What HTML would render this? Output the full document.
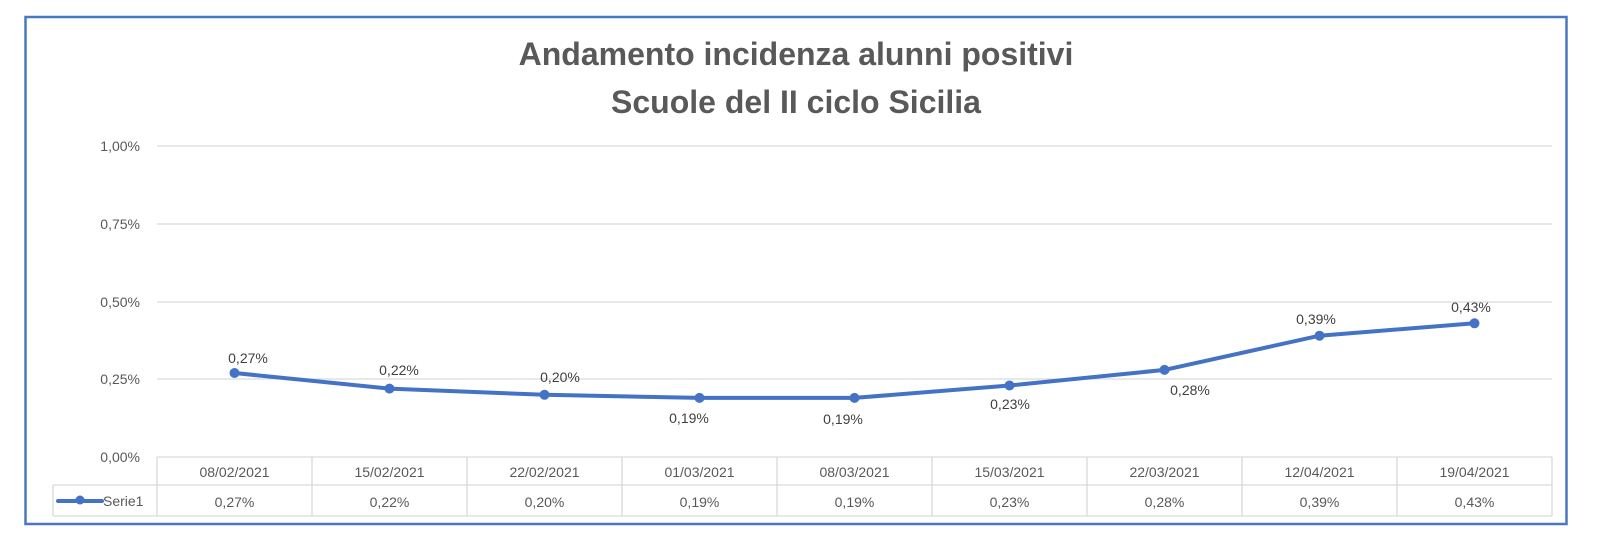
<!DOCTYPE html>
<html><head><meta charset="utf-8"><style>
body{margin:0;background:#fff;}
svg{display:block;font-family:"Liberation Sans",sans-serif;}
</style></head><body>
<svg width="1622" height="552" viewBox="0 0 1622 552" xmlns="http://www.w3.org/2000/svg">
<rect x="0" y="0" width="1622" height="552" fill="#fff"/>
<rect x="25.5" y="17" width="1541" height="507" fill="#fff" stroke="#4a78c0" stroke-width="2.5"/>
<g font-weight="bold" font-size="32" fill="#595959" text-anchor="middle">
<text x="796" y="65">Andamento incidenza alunni positivi</text>
<text x="796" y="113">Scuole del II ciclo Sicilia</text>
</g>
<g stroke="#d9d9d9" stroke-width="1.3">
<line x1="157" y1="146" x2="1552" y2="146"/>
<line x1="157" y1="224" x2="1552" y2="224"/>
<line x1="157" y1="302" x2="1552" y2="302"/>
<line x1="157" y1="379" x2="1552" y2="379"/>
</g>
<g font-size="14" fill="#595959" text-anchor="end">
<text x="140" y="151">1,00%</text>
<text x="140" y="229">0,75%</text>
<text x="140" y="307">0,50%</text>
<text x="140" y="384">0,25%</text>
<text x="140" y="462">0,00%</text>
</g>
<g stroke="#d9d9d9" stroke-width="1.3" fill="none">
<line x1="157" y1="457" x2="1552" y2="457"/>
<line x1="53" y1="485" x2="1552" y2="485"/>
<line x1="53" y1="516" x2="1552" y2="516"/>
<line x1="53" y1="485" x2="53" y2="516"/>
<line x1="157" y1="457" x2="157" y2="516"/>
<line x1="312" y1="457" x2="312" y2="516"/>
<line x1="467" y1="457" x2="467" y2="516"/>
<line x1="622" y1="457" x2="622" y2="516"/>
<line x1="777" y1="457" x2="777" y2="516"/>
<line x1="932" y1="457" x2="932" y2="516"/>
<line x1="1087" y1="457" x2="1087" y2="516"/>
<line x1="1242" y1="457" x2="1242" y2="516"/>
<line x1="1397" y1="457" x2="1397" y2="516"/>
<line x1="1552" y1="457" x2="1552" y2="516"/>
</g>
<g font-size="14" fill="#595959" text-anchor="middle">
<text x="234.5" y="477">08/02/2021</text>
<text x="389.5" y="477">15/02/2021</text>
<text x="544.5" y="477">22/02/2021</text>
<text x="699.5" y="477">01/03/2021</text>
<text x="854.5" y="477">08/03/2021</text>
<text x="1009.5" y="477">15/03/2021</text>
<text x="1164.5" y="477">22/03/2021</text>
<text x="1319.5" y="477">12/04/2021</text>
<text x="1474.5" y="477">19/04/2021</text>
<text x="234.5" y="507">0,27%</text>
<text x="389.5" y="507">0,22%</text>
<text x="544.5" y="507">0,20%</text>
<text x="699.5" y="507">0,19%</text>
<text x="854.5" y="507">0,19%</text>
<text x="1009.5" y="507">0,23%</text>
<text x="1164.5" y="507">0,28%</text>
<text x="1319.5" y="507">0,39%</text>
<text x="1474.5" y="507">0,43%</text>
</g>
<line x1="58" y1="501" x2="102" y2="501" stroke="#4472c4" stroke-width="4" stroke-linecap="round"/>
<circle cx="80" cy="500" r="4.5" fill="#4472c4"/>
<text x="103" y="506" font-size="14" fill="#595959">Serie1</text>
<polyline fill="none" stroke="#4472c4" stroke-width="4" stroke-linejoin="round"
points="234.5,373 389.5,388.6 544.5,394.8 699.5,397.9 854.5,397.9 1009.5,385.5 1164.5,369.9 1319.5,335.7 1474.5,323.3"/>
<g fill="#4472c4">
<circle cx="234.5" cy="373" r="5"/><circle cx="389.5" cy="388.6" r="5"/><circle cx="544.5" cy="394.8" r="5"/>
<circle cx="699.5" cy="397.9" r="5"/><circle cx="854.5" cy="397.9" r="5"/><circle cx="1009.5" cy="385.5" r="5"/>
<circle cx="1164.5" cy="369.9" r="5"/><circle cx="1319.5" cy="335.7" r="5"/><circle cx="1474.5" cy="323.3" r="5"/>
</g>
<g font-size="14" fill="#404040" text-anchor="middle">
<text x="248" y="363">0,27%</text>
<text x="399" y="375">0,22%</text>
<text x="560" y="382">0,20%</text>
<text x="689" y="423">0,19%</text>
<text x="843" y="424">0,19%</text>
<text x="1010" y="409">0,23%</text>
<text x="1190" y="395">0,28%</text>
<text x="1316" y="324">0,39%</text>
<text x="1471" y="312">0,43%</text>
</g>
</svg>
</body></html>
